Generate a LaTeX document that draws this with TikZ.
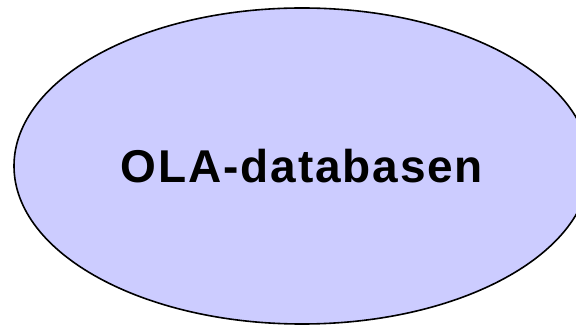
\documentclass[tikz,border=0pt]{standalone}
\usepackage{fontspec}
\setmainfont{Liberation Sans}
\usetikzlibrary{shapes.geometric}
\definecolor{dbfill}{HTML}{CCCCFF}

\begin{document}
\begin{tikzpicture}[
    x=0.5pt, y=0.5pt,
    % Database ellipse style
    dbellipse/.style={
        ellipse,
        draw=black,
        line width=0.8pt,
        fill=dbfill,
        minimum width=288pt,
        minimum height=158pt,
        inner sep=0pt,
        font=\fontsize{23}{27}\selectfont\bfseries\addfontfeature{LetterSpace=4}
    }
]
\useasboundingbox (0,0) rectangle (576,326);

% === Database ===
\node[dbellipse] (ola) at (302,160) {OLA-databasen};

\end{tikzpicture}
\end{document}
